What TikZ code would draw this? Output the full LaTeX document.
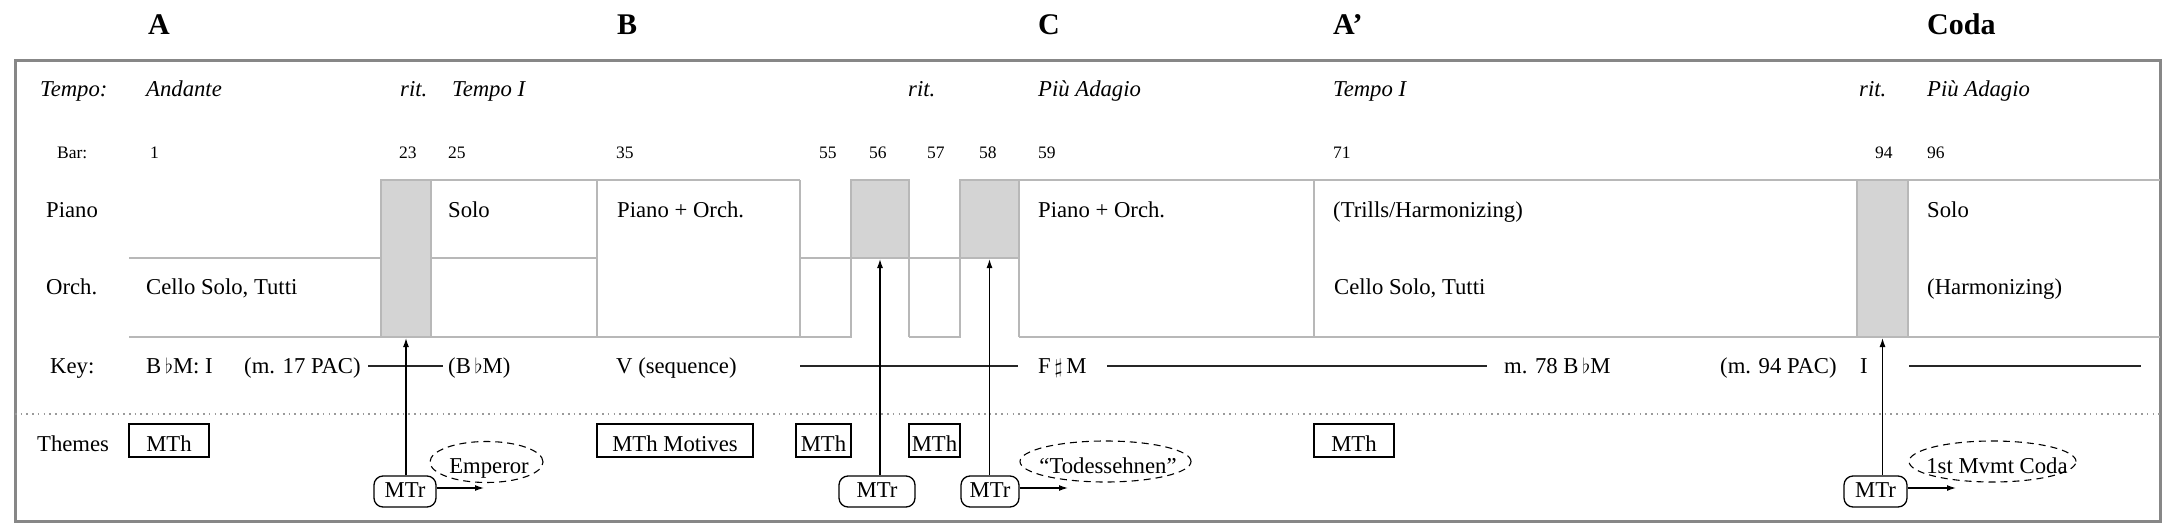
\documentclass[tikz,border=0pt]{standalone}
\usepackage{fontspec}
\setmainfont{Liberation Serif}
\usetikzlibrary{arrows.meta,shapes.geometric}
\definecolor{framegray}{HTML}{878787}
\definecolor{linegray}{HTML}{B8B8B8}
\definecolor{fillgray}{HTML}{D4D4D4}
\definecolor{dotgray}{HTML}{9A9A9A}
\newcommand{\fsz}{\fontsize{22.7}{26}\selectfont}
\begin{document}
\begin{tikzpicture}[x=1pt,y=-1pt,
  txt/.style={anchor=base west,inner sep=0pt,font=\fsz},
  itx/.style={anchor=base west,inner sep=0pt,font=\fsz\itshape},
  barno/.style={anchor=base west,inner sep=0pt,font=\fontsize{17.5}{20}\selectfont},
  head/.style={anchor=base west,inner sep=0pt,font=\fontsize{30}{34}\selectfont\bfseries},
  tline/.style={draw=linegray,line width=2pt},
  gbox/.style={draw=linegray,fill=fillgray,line width=2pt,inner sep=0pt},
  thbox/.style={draw,line width=1.3pt,anchor=base,inner xsep=0pt,inner ysep=0pt,text height=27pt,text depth=6pt,font=\fsz},
  mtrbox/.style={draw,rounded corners=9pt,line width=1.3pt,anchor=base,inner xsep=0pt,inner ysep=0pt,text height=21pt,text depth=10pt,font=\fsz},
  oval/.style={draw,ellipse,dash pattern=on 7pt off 5pt,line width=1.1pt,minimum height=41pt,inner sep=0pt},
  ovtxt/.style={anchor=base,inner sep=0pt,font=\fsz},
  arr/.style={-{Latex[length=9pt,width=6pt]},line width=1.3pt},
  keyline/.style={draw=black!85,line width=1.3pt},
]
\useasboundingbox (0,0) rectangle (2179,532);

% frame and separators
\draw[framegray,line width=3pt] (15,61) rectangle (2160,521);
\draw[dotgray,line width=1.6pt,dash pattern=on 1.6pt off 4.1pt] (15,414) -- (2160,414);

% table lines
\draw[tline] (381,180) -- (800,180) (851,180) -- (909,180) (960,180) -- (2160,180);
\draw[tline] (129,258) -- (597,258) (800,258) -- (1019,258);
\draw[tline] (129,337) -- (852,337) (909,337) -- (961,337) (1019,337) -- (2160,337);
\foreach \x in {597,800,851,909,960,1019,1314} \draw[tline] (\x,180) -- (\x,337);

% gray boxes
\node[gbox,minimum width=50,minimum height=157] (g23) at (406,258.5) {};
\node[gbox,minimum width=58,minimum height=78] (g56) at (880,219) {};
\node[gbox,minimum width=59,minimum height=78] (g58) at (989.5,219) {};
\node[gbox,minimum width=51,minimum height=157] (g94) at (1882.5,258.5) {};

% headings
\node[head] (hA) at (148,35) {A};
\node[head] (hB) at (617,35) {B};
\node[head] (hC) at (1038,35) {C};
\node[head] (hA2) at (1333,35) {A’};
\node[head] (hCoda) at (1927,35) {Coda};

% tempo row
\node[itx] (tlab) at (40,97) {Tempo:};
\node[itx] (t1) at (146,97) {Andante};
\node[itx] (t2) at (400,97) {rit.};
\node[itx] (t3) at (452,97) {Tempo I};
\node[itx] (t4) at (908,97) {rit.};
\node[itx] (t5) at (1038,97) {Più Adagio};
\node[itx] (t6) at (1333,97) {Tempo I};
\node[itx] (t7) at (1859,97) {rit.};
\node[itx] (t8) at (1927,97) {Più Adagio};

% bar row
\node[barno] (blab) at (57,158) {Bar:};
\node[barno] (b1) at (150,158) {1};
\node[barno] (b23) at (399,158) {23};
\node[barno] (b25) at (448,158) {25};
\node[barno] (b35) at (616,158) {35};
\node[barno] (b55) at (819,158) {55};
\node[barno] (b56) at (869,158) {56};
\node[barno] (b57) at (927,158) {57};
\node[barno] (b58) at (979,158) {58};
\node[barno] (b59) at (1038,158) {59};
\node[barno] (b71) at (1333,158) {71};
\node[barno] (b94) at (1875,158) {94};
\node[barno] (b96) at (1927,158) {96};

% piano row
\node[txt] (plab) at (46,217) {Piano};
\node[txt] (p1) at (448,217) {Solo};
\node[txt] (p2) at (617,217) {Piano + Orch.};
\node[txt] (p3) at (1038,217) {Piano + Orch.};
\node[txt] (p4) at (1333,217) {(Trills/Harmonizing)};
\node[txt] (p5) at (1927,217) {Solo};

% orch row
\node[txt] (olab) at (46,294) {Orch.};
\node[txt] (o1) at (146,294) {Cello Solo, Tutti};
\node[txt] (o2) at (1334,294) {Cello Solo, Tutti};
\node[txt] (o3) at (1927,294) {(Harmonizing)};

% key row
\node[txt] (klab) at (50,373) {Key:};
\node[txt] (k1) at (146,373) {B\,$\flat$M: I};
\node[txt] (k2) at (244,373) {(m. 17 PAC)};
\node[txt] (k3) at (448,373) {(B\,$\flat$M)};
\node[txt] (k4) at (616,373) {V (sequence)};
\node[txt] (k5) at (1038,373) {F\,$\sharp$\,M};
\node[txt] (k6) at (1504,373) {m. 78 B\,$\flat$M};
\node[txt] (k7) at (1720,373) {(m. 94 PAC)};
\node[txt] (k8) at (1860,373) {I};
\coordinate (kl1a) at (368,366); \coordinate (kl1b) at (443,366);
\coordinate (kl2a) at (800,366); \coordinate (kl2b) at (1018,366);
\coordinate (kl3a) at (1107,366); \coordinate (kl3b) at (1487,366);
\coordinate (kl4a) at (1909,366); \coordinate (kl4b) at (2141,366);
\draw[keyline] (kl1a) -- (kl1b);
\draw[keyline] (kl2a) -- (kl2b);
\draw[keyline] (kl3a) -- (kl3b);
\draw[keyline] (kl4a) -- (kl4b);

% themes row
\node[txt] (thlab) at (37,451) {Themes};
\node[thbox,minimum width=80] (m1) at (169,451) {MTh};
\node[thbox,minimum width=156] (m2) at (675,451) {MTh Motives};
\node[thbox,minimum width=55] (m3) at (823.5,451) {MTh};
\node[thbox,minimum width=51] (m4) at (934.5,451) {MTh};
\node[thbox,minimum width=80] (m5) at (1354,451) {MTh};

% transitions
\node[mtrbox,minimum width=62] (r1) at (405,497) {MTr};
\node[mtrbox,minimum width=76] (r2) at (877,497) {MTr};
\node[mtrbox,minimum width=58] (r3) at (990,497) {MTr};
\node[mtrbox,minimum width=63] (r4) at (1875.5,497) {MTr};

\draw[arr] (g23.south |- r1.north) -- (g23.south);
\draw[arr] (g56.south |- r2.north) -- (g56.south);
\draw[arr] (g58.south |- r3.north) -- (g58.south);
\draw[arr] (g94.south |- r4.north) -- (g94.south);

% ovals
\node[oval,minimum width=113] (e1) at (486.5,462) {};
\node[ovtxt] (e1t) at (489,473) {Emperor};
\node[oval,minimum width=171] (e2) at (1105.5,461.5) {};
\node[ovtxt] (e2t) at (1108,473) {“Todessehnen”};
\node[oval,minimum width=167] (e3) at (1992.5,461.5) {};
\node[ovtxt] (e3t) at (1997,473) {1st Mvmt Coda};

\coordinate (a1) at (484,488);
\coordinate (a3) at (1068,488);
\coordinate (a4) at (1956,488);
\draw[arr] (r1.east |- a1) -- (a1);
\draw[arr] (r3.east |- a3) -- (a3);
\draw[arr] (r4.east |- a4) -- (a4);
\end{tikzpicture}
\end{document}
